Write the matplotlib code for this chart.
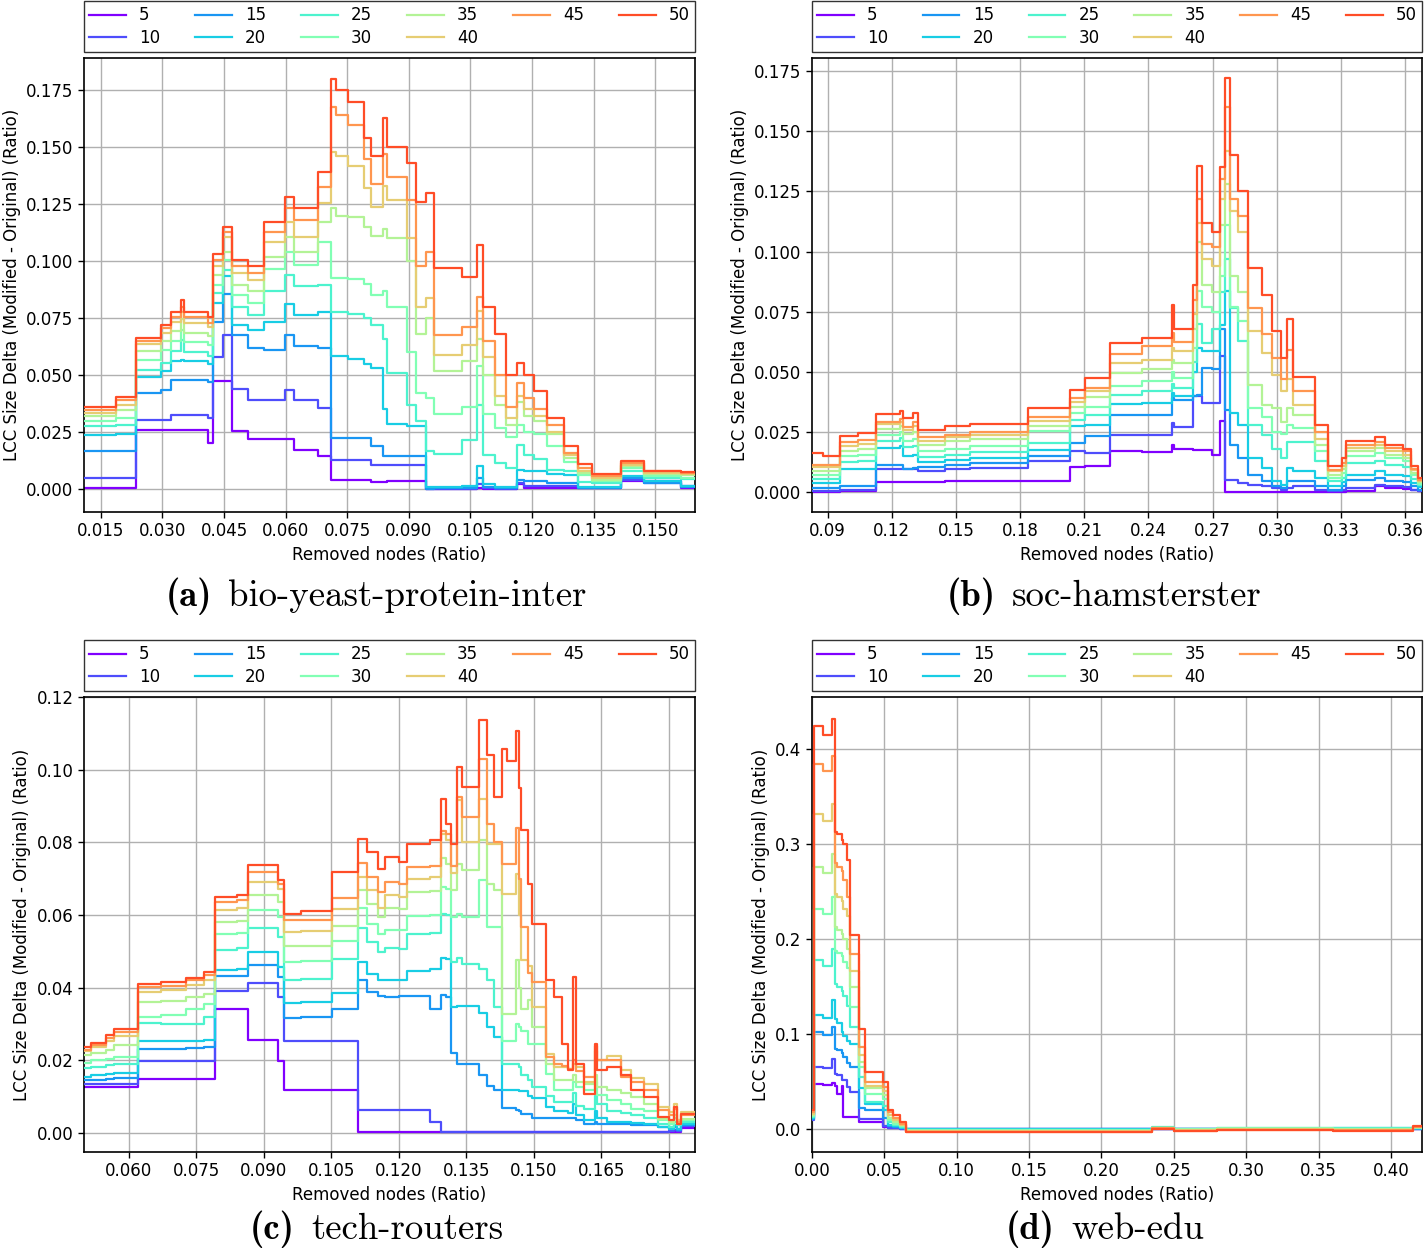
import numpy as np
import matplotlib
matplotlib.use("Agg")
import matplotlib.pyplot as plt

plt.rcParams['mathtext.fontset'] = 'cm'
plt.rcParams['axes.unicode_minus'] = False

SERIES = [5, 10, 15, 20, 25, 30, 35, 40, 45, 50]
YLABEL = "LCC Size Delta (Modified - Original) (Ratio)"
XLABEL = "Removed nodes (Ratio)"

# Each row holds the step level of series 50,45,40,35,30,25,20,15,10,5 starting at the matching X value.

# ---------------- (a) bio-yeast-protein-inter ----------------
A_X = [0.0109, 0.0187, 0.0235, 0.0296, 0.0321, 0.0345, 0.0352, 0.0410, 0.0422, 0.0447,
       0.0470, 0.0508, 0.0548, 0.0599, 0.0621, 0.0678, 0.0711, 0.0722, 0.0752, 0.0792,
       0.0809, 0.0836, 0.0846, 0.0896, 0.0918, 0.0941, 0.0961, 0.1030, 0.1066, 0.1080,
       0.1110, 0.1136, 0.1164, 0.1180, 0.1205, 0.1237, 0.1278, 0.1311, 0.1347, 0.1416,
       0.1473, 0.1563, 0.1597]
A_ROWS = [
    [0.0358, 0.0348, 0.0333, 0.0319, 0.0297, 0.0275, 0.0238, 0.0168, 0.0048, 0.0004],
    [0.0406, 0.0392, 0.0370, 0.0345, 0.0310, 0.0282, 0.0240, 0.0168, 0.0048, 0.0004],
    [0.0662, 0.0650, 0.0636, 0.0604, 0.0567, 0.0523, 0.0490, 0.0421, 0.0304, 0.0260],
    [0.0720, 0.0705, 0.0685, 0.0648, 0.0611, 0.0553, 0.0516, 0.0436, 0.0304, 0.0260],
    [0.0779, 0.0757, 0.0735, 0.0692, 0.0648, 0.0604, 0.0560, 0.0480, 0.0323, 0.0260],
    [0.0830, 0.0800, 0.0775, 0.0745, 0.0700, 0.0655, 0.0565, 0.0480, 0.0323, 0.0260],
    [0.0775, 0.0755, 0.0730, 0.0685, 0.0645, 0.0600, 0.0560, 0.0480, 0.0323, 0.0260],
    [0.0755, 0.0730, 0.0710, 0.0670, 0.0630, 0.0585, 0.0550, 0.0470, 0.0310, 0.0202],
    [0.1031, 0.1006, 0.0977, 0.0940, 0.0896, 0.0860, 0.0816, 0.0735, 0.0580, 0.0475],
    [0.1152, 0.1130, 0.1108, 0.1042, 0.1006, 0.0962, 0.0937, 0.0855, 0.0677, 0.0475],
    [0.1006, 0.0977, 0.0947, 0.0896, 0.0852, 0.0801, 0.0721, 0.0677, 0.0439, 0.0253],
    [0.0977, 0.0947, 0.0918, 0.0867, 0.0816, 0.0765, 0.0699, 0.0618, 0.0392, 0.0221],
    [0.1174, 0.1130, 0.1086, 0.1020, 0.0966, 0.0867, 0.0735, 0.0611, 0.0392, 0.0221],
    [0.1284, 0.1232, 0.1174, 0.1108, 0.1042, 0.0940, 0.0810, 0.0677, 0.0436, 0.0221],
    [0.1232, 0.1180, 0.1108, 0.1042, 0.0984, 0.0889, 0.0765, 0.0626, 0.0392, 0.0173],
    [0.1393, 0.1327, 0.1254, 0.1174, 0.1086, 0.0896, 0.0779, 0.0618, 0.0355, 0.0143],
    [0.1800, 0.1678, 0.1480, 0.1232, 0.0925, 0.0779, 0.0582, 0.0224, 0.0129, 0.0041],
    [0.1751, 0.1640, 0.1460, 0.1200, 0.0925, 0.0779, 0.0582, 0.0224, 0.0129, 0.0041],
    [0.1700, 0.1600, 0.1420, 0.1195, 0.0920, 0.0768, 0.0570, 0.0224, 0.0129, 0.0041],
    [0.1540, 0.1450, 0.1320, 0.1150, 0.0900, 0.0750, 0.0550, 0.0224, 0.0129, 0.0041],
    [0.1460, 0.1340, 0.1240, 0.1110, 0.0850, 0.0720, 0.0530, 0.0187, 0.0104, 0.0031],
    [0.1630, 0.1470, 0.1330, 0.1140, 0.0870, 0.0660, 0.0350, 0.0143, 0.0104, 0.0031],
    [0.1500, 0.1370, 0.1270, 0.1100, 0.0800, 0.0510, 0.0286, 0.0143, 0.0107, 0.0034],
    [0.1430, 0.1270, 0.1100, 0.1000, 0.0602, 0.0370, 0.0275, 0.0143, 0.0107, 0.0034],
    [0.1260, 0.0980, 0.0800, 0.0680, 0.0420, 0.0300, 0.0275, 0.0143, 0.0107, 0.0034],
    [0.1300, 0.1040, 0.0840, 0.0750, 0.0400, 0.0165, 0.0010, 0.0002, 0.0002, 0.0002],
    [0.0970, 0.0677, 0.0590, 0.0520, 0.0330, 0.0155, 0.0010, 0.0004, 0.0002, 0.0001],
    [0.0930, 0.0710, 0.0630, 0.0560, 0.0360, 0.0215, 0.0015, 0.0005, 0.0002, 0.0001],
    [0.1070, 0.0845, 0.0780, 0.0660, 0.0538, 0.0370, 0.0100, 0.0050, 0.0020, 0.0005],
    [0.0800, 0.0650, 0.0580, 0.0500, 0.0330, 0.0150, 0.0020, 0.0010, 0.0003, 0.0001],
    [0.0680, 0.0500, 0.0410, 0.0370, 0.0268, 0.0114, 0.0010, 0.0003, 0.0002, 0.0001],
    [0.0500, 0.0360, 0.0310, 0.0280, 0.0230, 0.0090, 0.0010, 0.0003, 0.0002, 0.0001],
    [0.0553, 0.0465, 0.0410, 0.0380, 0.0280, 0.0194, 0.0085, 0.0040, 0.0026, 0.0020],
    [0.0500, 0.0400, 0.0350, 0.0320, 0.0250, 0.0150, 0.0077, 0.0034, 0.0012, 0.0004],
    [0.0430, 0.0350, 0.0320, 0.0297, 0.0240, 0.0130, 0.0077, 0.0034, 0.0012, 0.0004],
    [0.0310, 0.0280, 0.0250, 0.0240, 0.0190, 0.0085, 0.0065, 0.0026, 0.0012, 0.0004],
    [0.0187, 0.0158, 0.0150, 0.0136, 0.0120, 0.0077, 0.0060, 0.0026, 0.0012, 0.0004],
    [0.0110, 0.0090, 0.0080, 0.0070, 0.0060, 0.0030, 0.0010, 0.0005, 0.0004, 0.0003],
    [0.0066, 0.0056, 0.0048, 0.0040, 0.0033, 0.0026, 0.0010, 0.0005, 0.0004, 0.0003],
    [0.0121, 0.0114, 0.0107, 0.0100, 0.0092, 0.0077, 0.0056, 0.0048, 0.0040, 0.0034],
    [0.0080, 0.0077, 0.0070, 0.0065, 0.0058, 0.0050, 0.0034, 0.0026, 0.0026, 0.0034],
    [0.0075, 0.0072, 0.0066, 0.0060, 0.0050, 0.0045, 0.0012, 0.0008, 0.0012, 0.0004],
]
A_XTICKS = [0.015, 0.030, 0.045, 0.060, 0.075, 0.090, 0.105, 0.120, 0.135, 0.150]
A_XTICKLABELS = ["0.015", "0.030", "0.045", "0.060", "0.075", "0.090", "0.105", "0.120", "0.135", "0.150"]
A_YTICKS = [0.000, 0.025, 0.050, 0.075, 0.100, 0.125, 0.150, 0.175]
A_YTICKLABELS = ["0.000", "0.025", "0.050", "0.075", "0.100", "0.125", "0.150", "0.175"]

# ---------------- (b) soc-hamsterster ----------------
B_X = [0.0827, 0.0880, 0.0959, 0.1040, 0.1126, 0.1240, 0.1254, 0.1299, 0.1322, 0.1449,
       0.1566, 0.1838, 0.2033, 0.2103, 0.2220, 0.2369, 0.2509, 0.2518, 0.2610, 0.2626,
       0.2649, 0.2696, 0.2734, 0.2758, 0.2781, 0.2820, 0.2867, 0.2929, 0.2976, 0.3022,
       0.3046, 0.3077, 0.3178, 0.3240, 0.3303, 0.3326, 0.3458, 0.3505, 0.3590, 0.3629,
       0.3660, 0.3679]
B_ROWS = [
    [0.0162, 0.0114, 0.0103, 0.0089, 0.0072, 0.0055, 0.0037, 0.0017, 0.0003, 0.0000],
    [0.0148, 0.0114, 0.0103, 0.0089, 0.0072, 0.0055, 0.0037, 0.0017, 0.0003, 0.0000],
    [0.0234, 0.0210, 0.0193, 0.0172, 0.0148, 0.0125, 0.0097, 0.0026, 0.0007, 0.0003],
    [0.0245, 0.0215, 0.0198, 0.0178, 0.0152, 0.0128, 0.0097, 0.0026, 0.0007, 0.0003],
    [0.0324, 0.0290, 0.0281, 0.0263, 0.0238, 0.0214, 0.0183, 0.0111, 0.0096, 0.0042],
    [0.0338, 0.0305, 0.0290, 0.0276, 0.0250, 0.0225, 0.0190, 0.0111, 0.0096, 0.0042],
    [0.0308, 0.0270, 0.0260, 0.0242, 0.0211, 0.0186, 0.0149, 0.0097, 0.0096, 0.0042],
    [0.0330, 0.0290, 0.0275, 0.0250, 0.0220, 0.0190, 0.0155, 0.0100, 0.0096, 0.0042],
    [0.0260, 0.0227, 0.0213, 0.0197, 0.0169, 0.0144, 0.0125, 0.0103, 0.0086, 0.0042],
    [0.0273, 0.0238, 0.0227, 0.0211, 0.0180, 0.0155, 0.0135, 0.0113, 0.0096, 0.0047],
    [0.0283, 0.0250, 0.0238, 0.0221, 0.0190, 0.0165, 0.0141, 0.0120, 0.0100, 0.0047],
    [0.0350, 0.0310, 0.0294, 0.0273, 0.0252, 0.0204, 0.0176, 0.0148, 0.0128, 0.0047],
    [0.0426, 0.0391, 0.0373, 0.0352, 0.0329, 0.0301, 0.0273, 0.0204, 0.0169, 0.0103],
    [0.0474, 0.0433, 0.0419, 0.0394, 0.0352, 0.0319, 0.0280, 0.0232, 0.0162, 0.0107],
    [0.0618, 0.0575, 0.0538, 0.0493, 0.0443, 0.0403, 0.0366, 0.0322, 0.0238, 0.0169],
    [0.0640, 0.0606, 0.0550, 0.0510, 0.0460, 0.0419, 0.0370, 0.0319, 0.0236, 0.0166],
    [0.0779, 0.0660, 0.0600, 0.0550, 0.0500, 0.0450, 0.0410, 0.0390, 0.0287, 0.0197],
    [0.0680, 0.0625, 0.0585, 0.0535, 0.0473, 0.0433, 0.0400, 0.0384, 0.0270, 0.0180],
    [0.0862, 0.0800, 0.0740, 0.0680, 0.0600, 0.0540, 0.0500, 0.0400, 0.0398, 0.0175],
    [0.1355, 0.1220, 0.1120, 0.1040, 0.0835, 0.0700, 0.0600, 0.0405, 0.0398, 0.0175],
    [0.1120, 0.1030, 0.0970, 0.0860, 0.0770, 0.0620, 0.0585, 0.0516, 0.0370, 0.0175],
    [0.1080, 0.1020, 0.0940, 0.0830, 0.0750, 0.0680, 0.0585, 0.0510, 0.0370, 0.0155],
    [0.1350, 0.1300, 0.1220, 0.1110, 0.0900, 0.0830, 0.0695, 0.0680, 0.0564, 0.0294],
    [0.1720, 0.1600, 0.1420, 0.1280, 0.1110, 0.0970, 0.0835, 0.0340, 0.0050, 0.0000],
    [0.1400, 0.1220, 0.1170, 0.0900, 0.0770, 0.0765, 0.0330, 0.0197, 0.0050, 0.0000],
    [0.1250, 0.1150, 0.1080, 0.0830, 0.0710, 0.0627, 0.0280, 0.0141, 0.0037, 0.0000],
    [0.0930, 0.0765, 0.0670, 0.0446, 0.0350, 0.0280, 0.0140, 0.0072, 0.0030, 0.0000],
    [0.0820, 0.0656, 0.0580, 0.0360, 0.0310, 0.0238, 0.0100, 0.0044, 0.0024, 0.0000],
    [0.0668, 0.0557, 0.0488, 0.0350, 0.0250, 0.0180, 0.0044, 0.0024, 0.0017, 0.0000],
    [0.0557, 0.0470, 0.0420, 0.0290, 0.0240, 0.0140, 0.0030, 0.0017, 0.0010, 0.0000],
    [0.0720, 0.0590, 0.0470, 0.0350, 0.0280, 0.0210, 0.0100, 0.0044, 0.0017, 0.0000],
    [0.0480, 0.0420, 0.0363, 0.0320, 0.0266, 0.0210, 0.0086, 0.0044, 0.0024, 0.0000],
    [0.0280, 0.0250, 0.0220, 0.0197, 0.0170, 0.0128, 0.0058, 0.0024, 0.0010, 0.0000],
    [0.0110, 0.0093, 0.0086, 0.0072, 0.0058, 0.0044, 0.0024, 0.0010, 0.0003, 0.0000],
    [0.0140, 0.0120, 0.0110, 0.0097, 0.0080, 0.0060, 0.0040, 0.0024, 0.0010, 0.0000],
    [0.0214, 0.0197, 0.0183, 0.0169, 0.0148, 0.0120, 0.0072, 0.0051, 0.0017, 0.0006],
    [0.0227, 0.0210, 0.0197, 0.0183, 0.0162, 0.0128, 0.0086, 0.0058, 0.0030, 0.0026],
    [0.0194, 0.0183, 0.0169, 0.0155, 0.0141, 0.0114, 0.0072, 0.0044, 0.0024, 0.0017],
    [0.0180, 0.0170, 0.0155, 0.0141, 0.0128, 0.0103, 0.0065, 0.0040, 0.0020, 0.0014],
    [0.0110, 0.0097, 0.0090, 0.0080, 0.0070, 0.0055, 0.0037, 0.0024, 0.0010, 0.0007],
    [0.0060, 0.0050, 0.0045, 0.0040, 0.0035, 0.0030, 0.0020, 0.0010, 0.0005, 0.0003],
]
B_XTICKS = [0.09, 0.12, 0.15, 0.18, 0.21, 0.24, 0.27, 0.30, 0.33, 0.36]
B_XTICKLABELS = ["0.09", "0.12", "0.15", "0.18", "0.21", "0.24", "0.27", "0.30", "0.33", "0.36"]
B_YTICKS = [0.000, 0.025, 0.050, 0.075, 0.100, 0.125, 0.150, 0.175]
B_YTICKLABELS = ["0.000", "0.025", "0.050", "0.075", "0.100", "0.125", "0.150", "0.175"]

# ---------------- (c) tech-routers ----------------
C_X = [0.0501, 0.0516, 0.0550, 0.0568, 0.0621, 0.0672, 0.0727, 0.0768, 0.0791, 0.0840,
       0.0865, 0.0931, 0.0946, 0.0983, 0.1052, 0.1110, 0.1130, 0.1154, 0.1169,
       0.1200, 0.1219, 0.1270, 0.1293, 0.1304, 0.1315, 0.1330, 0.1341, 0.1378, 0.1397,
       0.1411, 0.1430, 0.1441, 0.1460, 0.1467, 0.1471, 0.1486, 0.1497, 0.1526, 0.1545,
       0.1563, 0.1575, 0.1588, 0.1594, 0.1612, 0.1635, 0.1641, 0.1663, 0.1693, 0.1715,
       0.1745, 0.1775, 0.1801, 0.1812, 0.1818, 0.1827, 0.1858]
C_ROWS = [
    [0.0236, 0.0229, 0.0225, 0.0213, 0.0192, 0.0179, 0.0153, 0.0144, 0.0133, 0.0126],
    [0.0247, 0.0241, 0.0236, 0.0220, 0.0200, 0.0182, 0.0159, 0.0144, 0.0135, 0.0126],
    [0.0268, 0.0262, 0.0254, 0.0227, 0.0204, 0.0186, 0.0163, 0.0149, 0.0135, 0.0126],
    [0.0285, 0.0277, 0.0266, 0.0241, 0.0208, 0.0190, 0.0165, 0.0150, 0.0135, 0.0126],
    [0.0410, 0.0402, 0.0388, 0.0360, 0.0320, 0.0302, 0.0253, 0.0231, 0.0197, 0.0147],
    [0.0415, 0.0405, 0.0392, 0.0364, 0.0323, 0.0300, 0.0253, 0.0231, 0.0197, 0.0147],
    [0.0426, 0.0420, 0.0406, 0.0374, 0.0342, 0.0300, 0.0253, 0.0233, 0.0197, 0.0147],
    [0.0443, 0.0434, 0.0420, 0.0383, 0.0355, 0.0318, 0.0255, 0.0235, 0.0197, 0.0147],
    [0.0649, 0.0635, 0.0614, 0.0580, 0.0546, 0.0504, 0.0449, 0.0431, 0.0390, 0.0340],
    [0.0654, 0.0640, 0.0618, 0.0584, 0.0550, 0.0508, 0.0452, 0.0433, 0.0390, 0.0340],
    [0.0736, 0.0718, 0.0690, 0.0654, 0.0613, 0.0564, 0.0498, 0.0463, 0.0413, 0.0256],
    [0.0695, 0.0685, 0.0670, 0.0635, 0.0594, 0.0540, 0.0456, 0.0430, 0.0374, 0.0197],
    [0.0603, 0.0585, 0.0553, 0.0513, 0.0470, 0.0421, 0.0358, 0.0316, 0.0254, 0.0118],
    [0.0612, 0.0587, 0.0555, 0.0515, 0.0472, 0.0423, 0.0360, 0.0318, 0.0254, 0.0118],
    [0.0718, 0.0647, 0.0615, 0.0568, 0.0528, 0.0479, 0.0386, 0.0342, 0.0254, 0.0118],
    [0.0810, 0.0743, 0.0704, 0.0669, 0.0620, 0.0564, 0.0470, 0.0420, 0.0062, 0.0002],
    [0.0773, 0.0704, 0.0668, 0.0630, 0.0576, 0.0525, 0.0438, 0.0388, 0.0062, 0.0002],
    [0.0727, 0.0663, 0.0620, 0.0595, 0.0546, 0.0498, 0.0420, 0.0376, 0.0062, 0.0002],
    [0.0760, 0.0690, 0.0654, 0.0620, 0.0557, 0.0510, 0.0421, 0.0374, 0.0062, 0.0002],
    [0.0746, 0.0686, 0.0650, 0.0617, 0.0557, 0.0507, 0.0420, 0.0376, 0.0062, 0.0002],
    [0.0796, 0.0732, 0.0700, 0.0663, 0.0596, 0.0546, 0.0445, 0.0376, 0.0062, 0.0002],
    [0.0805, 0.0735, 0.0705, 0.0667, 0.0600, 0.0550, 0.0450, 0.0342, 0.0030, 0.0002],
    [0.0920, 0.0830, 0.0823, 0.0756, 0.0677, 0.0603, 0.0480, 0.0378, 0.0002, 0.0002],
    [0.0850, 0.0823, 0.0805, 0.0740, 0.0670, 0.0600, 0.0478, 0.0375, 0.0002, 0.0002],
    [0.0796, 0.0735, 0.0715, 0.0668, 0.0594, 0.0470, 0.0346, 0.0220, 0.0002, 0.0002],
    [0.1007, 0.0925, 0.0915, 0.0740, 0.0603, 0.0480, 0.0350, 0.0190, 0.0002, 0.0002],
    [0.0952, 0.0870, 0.0800, 0.0723, 0.0594, 0.0466, 0.0349, 0.0190, 0.0002, 0.0002],
    [0.1136, 0.1030, 0.0920, 0.0805, 0.0697, 0.0452, 0.0329, 0.0160, 0.0002, 0.0002],
    [0.1040, 0.0850, 0.0796, 0.0686, 0.0567, 0.0420, 0.0290, 0.0130, 0.0002, 0.0002],
    [0.0925, 0.0802, 0.0796, 0.0668, 0.0567, 0.0346, 0.0264, 0.0117, 0.0002, 0.0002],
    [0.1058, 0.0741, 0.0658, 0.0328, 0.0254, 0.0190, 0.0118, 0.0069, 0.0002, 0.0002],
    [0.1025, 0.0741, 0.0658, 0.0328, 0.0254, 0.0190, 0.0118, 0.0069, 0.0002, 0.0002],
    [0.1105, 0.0838, 0.0713, 0.0475, 0.0300, 0.0190, 0.0118, 0.0062, 0.0002, 0.0002],
    [0.0950, 0.0700, 0.0600, 0.0400, 0.0290, 0.0180, 0.0115, 0.0060, 0.0002, 0.0002],
    [0.0833, 0.0567, 0.0475, 0.0340, 0.0280, 0.0160, 0.0115, 0.0052, 0.0002, 0.0002],
    [0.0686, 0.0440, 0.0460, 0.0365, 0.0245, 0.0145, 0.0100, 0.0052, 0.0002, 0.0002],
    [0.0576, 0.0415, 0.0346, 0.0291, 0.0245, 0.0126, 0.0095, 0.0041, 0.0002, 0.0002],
    [0.0420, 0.0208, 0.0218, 0.0190, 0.0163, 0.0100, 0.0070, 0.0041, 0.0002, 0.0002],
    [0.0374, 0.0190, 0.0181, 0.0144, 0.0117, 0.0084, 0.0060, 0.0041, 0.0002, 0.0002],
    [0.0245, 0.0185, 0.0181, 0.0144, 0.0117, 0.0084, 0.0060, 0.0041, 0.0002, 0.0002],
    [0.0172, 0.0175, 0.0175, 0.0144, 0.0117, 0.0084, 0.0055, 0.0041, 0.0002, 0.0002],
    [0.0429, 0.0200, 0.0190, 0.0160, 0.0140, 0.0110, 0.0080, 0.0041, 0.0002, 0.0002],
    [0.0190, 0.0170, 0.0181, 0.0140, 0.0126, 0.0075, 0.0050, 0.0035, 0.0002, 0.0002],
    [0.0107, 0.0153, 0.0140, 0.0135, 0.0117, 0.0066, 0.0035, 0.0025, 0.0002, 0.0002],
    [0.0245, 0.0240, 0.0225, 0.0160, 0.0140, 0.0100, 0.0060, 0.0030, 0.0002, 0.0002],
    [0.0172, 0.0200, 0.0200, 0.0125, 0.0105, 0.0080, 0.0040, 0.0025, 0.0002, 0.0002],
    [0.0181, 0.0200, 0.0210, 0.0117, 0.0089, 0.0060, 0.0030, 0.0025, 0.0002, 0.0002],
    [0.0160, 0.0153, 0.0172, 0.0110, 0.0080, 0.0055, 0.0030, 0.0024, 0.0002, 0.0002],
    [0.0117, 0.0140, 0.0150, 0.0098, 0.0065, 0.0048, 0.0028, 0.0022, 0.0002, 0.0002],
    [0.0098, 0.0117, 0.0135, 0.0080, 0.0060, 0.0040, 0.0025, 0.0020, 0.0002, 0.0002],
    [0.0043, 0.0062, 0.0070, 0.0039, 0.0034, 0.0025, 0.0015, 0.0015, 0.0003, 0.0002],
    [0.0034, 0.0048, 0.0057, 0.0030, 0.0025, 0.0015, 0.0010, 0.0010, 0.0005, 0.0002],
    [0.0070, 0.0065, 0.0080, 0.0050, 0.0040, 0.0030, 0.0020, 0.0015, 0.0008, 0.0003],
    [0.0025, 0.0030, 0.0035, 0.0030, 0.0025, 0.0020, 0.0010, 0.0008, 0.0006, 0.0003],
    [0.0052, 0.0048, 0.0057, 0.0039, 0.0034, 0.0030, 0.0025, 0.0020, 0.0018, 0.0012],
]
C_XTICKS = [0.060, 0.075, 0.090, 0.105, 0.120, 0.135, 0.150, 0.165, 0.180]
C_XTICKLABELS = ["0.060", "0.075", "0.090", "0.105", "0.120", "0.135", "0.150", "0.165", "0.180"]
C_YTICKS = [0.00, 0.02, 0.04, 0.06, 0.08, 0.10, 0.12]
C_YTICKLABELS = ["0.00", "0.02", "0.04", "0.06", "0.08", "0.10", "0.12"]

# ---------------- (d) web-edu ----------------
D_X = [0.0000, 0.0014, 0.0075, 0.0136, 0.0159, 0.0170, 0.0205, 0.0216, 0.0240, 0.0263,
       0.0327, 0.0366, 0.0493, 0.0527, 0.0562, 0.0608, 0.0649, 0.2350, 0.2500, 0.2800,
       0.3600, 0.4150, 0.4215]
D_ROWS = [
    [0.020, 0.018, 0.016, 0.015, 0.014, 0.013, 0.012, 0.011, 0.010, 0.016],
    [0.424, 0.385, 0.332, 0.276, 0.232, 0.178, 0.120, 0.102, 0.066, 0.048],
    [0.415, 0.377, 0.324, 0.270, 0.227, 0.172, 0.117, 0.099, 0.064, 0.047],
    [0.432, 0.393, 0.342, 0.290, 0.245, 0.190, 0.136, 0.108, 0.074, 0.049],
    [0.313, 0.280, 0.248, 0.213, 0.188, 0.153, 0.116, 0.085, 0.0586, 0.046],
    [0.311, 0.276, 0.245, 0.210, 0.186, 0.150, 0.112, 0.083, 0.057, 0.0375],
    [0.305, 0.272, 0.240, 0.206, 0.182, 0.146, 0.102, 0.080, 0.0516, 0.046],
    [0.300, 0.262, 0.232, 0.200, 0.176, 0.140, 0.098, 0.076, 0.0516, 0.013],
    [0.283, 0.245, 0.224, 0.190, 0.170, 0.130, 0.093, 0.070, 0.045, 0.013],
    [0.204, 0.185, 0.167, 0.150, 0.129, 0.108, 0.090, 0.066, 0.039, 0.013],
    [0.106, 0.087, 0.078, 0.071, 0.066, 0.055, 0.043, 0.022, 0.011, 0.0077],
    [0.060, 0.050, 0.046, 0.043, 0.0375, 0.029, 0.027, 0.020, 0.011, 0.0077],
    [0.050, 0.044, 0.040, 0.036, 0.032, 0.024, 0.020, 0.012, 0.003, 0.0025],
    [0.020, 0.018, 0.015, 0.012, 0.010, 0.008, 0.005, 0.003, 0.001, 0.001],
    [0.0147, 0.012, 0.010, 0.008, 0.006, 0.005, 0.003, 0.002, 0.001, 0.001],
    [0.0077, 0.006, 0.005, 0.004, 0.003, 0.002, 0.001, 0.001, 0.0005, 0.0005],
    [-0.003, -0.0025, -0.002, -0.0015, -0.001, -0.0005, 0.0, 0.0, 0.0, 0.0],
    [0.0005, 0.001, 0.001, 0.0015, 0.0015, 0.002, 0.001, 0.0005, 0.0, 0.0],
    [-0.002, -0.0015, -0.001, -0.0005, 0.0, 0.0005, 0.0005, 0.0, 0.0, 0.0],
    [-0.001, -0.0005, 0.0, 0.0005, 0.001, 0.001, 0.0005, 0.0, 0.0, 0.0],
    [-0.0015, -0.001, -0.0005, 0.0, 0.0005, 0.001, 0.001, 0.0005, 0.0, 0.0],
    [0.003, 0.0025, 0.002, 0.002, 0.0015, 0.001, 0.001, 0.0005, 0.0, 0.0],
]
D_XTICKS = [0.00, 0.05, 0.10, 0.15, 0.20, 0.25, 0.30, 0.35, 0.40]
D_XTICKLABELS = ["0.00", "0.05", "0.10", "0.15", "0.20", "0.25", "0.30", "0.35", "0.40"]
D_YTICKS = [0.0, 0.1, 0.2, 0.3, 0.4]
D_YTICKLABELS = ["0.0", "0.1", "0.2", "0.3", "0.4"]

CAPTIONS = ["bio-yeast-protein-inter", "soc-hamsterster", "tech-routers", "web-edu"]
LETTERS = ["(a)", "(b)", "(c)", "(d)"]

W, H = 1427, 1249
fig = plt.figure(figsize=(W / 100, H / 100), dpi=100)


def px_axes(x0, y0, x1, y1):
    return fig.add_axes([x0 / W, 1 - y1 / H, (x1 - x0) / W, (y1 - y0) / H])


panels = [
    (px_axes(84, 58, 695, 512), A_X, A_ROWS, A_XTICKS, A_XTICKLABELS, A_YTICKS, A_YTICKLABELS,
     (0.0109, 0.1597), (-0.0101, 0.1892)),
    (px_axes(812, 58, 1422, 512), B_X, B_ROWS, B_XTICKS, B_XTICKLABELS, B_YTICKS, B_YTICKLABELS,
     (0.0827, 0.3679), (-0.0083, 0.1805)),
    (px_axes(84, 697, 695, 1152), C_X, C_ROWS, C_XTICKS, C_XTICKLABELS, C_YTICKS, C_YTICKLABELS,
     (0.0501, 0.1858), (-0.0053, 0.1200)),
    (px_axes(812, 697, 1422, 1152), D_X, D_ROWS, D_XTICKS, D_XTICKLABELS, D_YTICKS, D_YTICKLABELS,
     (0.0, 0.4215), (-0.0239, 0.455)),
]

cmap = plt.get_cmap('rainbow')
for ax, xs, rows, xt, xtl, yt, ytl, xl, yl in panels:
    assert len(rows) == len(xs) - 1
    vals = np.array(rows + [rows[-1]])
    for k, s in enumerate(SERIES):
        ax.plot(xs, vals[:, 9 - k], drawstyle='steps-post', color=cmap(k / 10),
                lw=1.6, label=str(s), zorder=2 + k)
    ax.set_xlim(*xl)
    ax.set_ylim(*yl)
    ax.set_xticks(xt)
    ax.set_xticklabels(xtl)
    ax.set_yticks(yt)
    ax.set_yticklabels(ytl)
    ax.grid(True, color='#b0b0b0', lw=1.0)
    ax.set_axisbelow(True)
    ax.tick_params(labelsize=12, length=4, width=1)
    for sp in ax.spines.values():
        sp.set_linewidth(1.2)
    ax.set_xlabel(XLABEL, fontsize=12, labelpad=4)
    ax.set_ylabel(YLABEL, fontsize=12)
    leg = ax.legend(loc='lower left', bbox_to_anchor=(0, 1.013, 1, 0.1), mode='expand',
                    ncol=6, fontsize=12, fancybox=False, framealpha=1, edgecolor='0.2',
                    borderaxespad=0, handlelength=2.2, borderpad=0.3, labelspacing=0.28)
    leg.get_frame().set_linewidth(1.0)

# captions: bold letter in cmb10, dataset name in cmr10, centred together
fig.canvas.draw()
renderer = fig.canvas.get_renderer()
cap_pos = [(376, 596), (1104, 596), (377, 1229), (1105, 1229)]
CAP_SIZE = 26.5
for (cx, cy), let, name in zip(cap_pos, LETTERS, CAPTIONS):
    t1 = fig.text(0, 1 - cy / H, let, ha='left', va='center', fontsize=CAP_SIZE, family='cmb10')
    t2 = fig.text(0, 1 - cy / H, name, ha='left', va='center', fontsize=CAP_SIZE, family='cmr10')
    w1 = t1.get_window_extent(renderer).width
    w2 = t2.get_window_extent(renderer).width
    gap = 0.45 * CAP_SIZE * 100 / 72
    total = w1 + gap + w2
    start = cx - total / 2
    t1.set_x(start / W)
    t2.set_x((start + w1 + gap) / W)

fig.savefig('out.png', dpi=100)
